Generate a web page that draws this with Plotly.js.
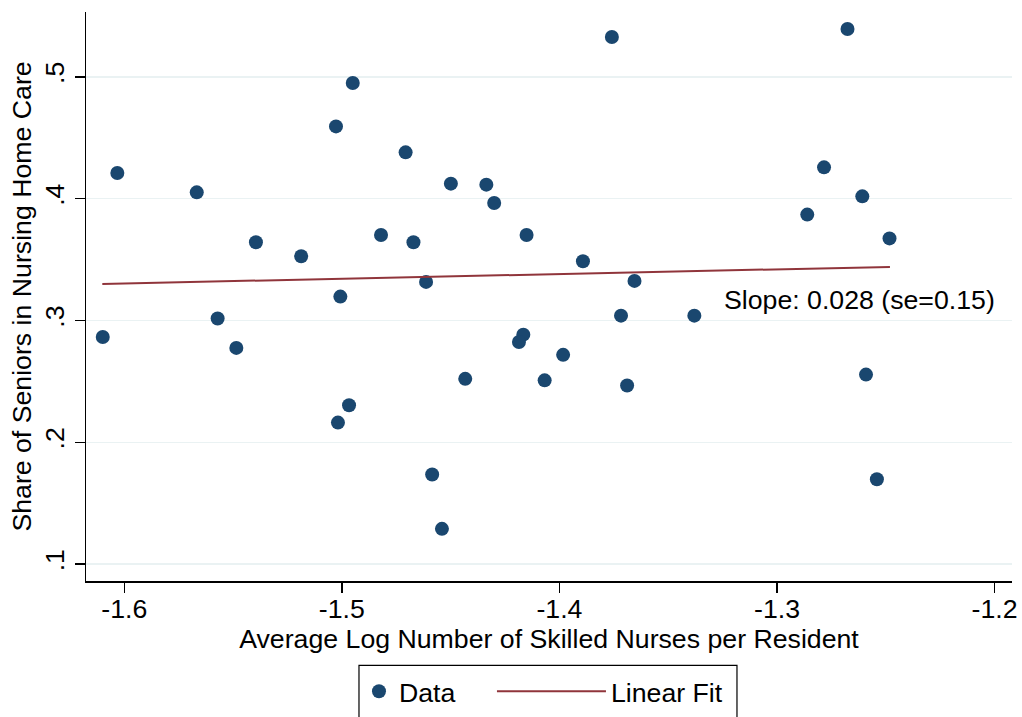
<!DOCTYPE html>
<html>
<head>
<meta charset="utf-8">
<script src="https://cdn.plot.ly/plotly-3.0.1.min.js"></script>
<style>
  html, body { margin: 0; padding: 0; background: #ffffff; }
  #chart { width: 1022px; height: 717px; }
</style>
</head>
<body>
<div id="chart"></div>
<script>
// Average log skilled nurses per resident (x) vs. share of seniors in nursing home care (y)
const nursesLog = [
  -1.6099, -1.6032, -1.5667, -1.5571, -1.5485, -1.5395, -1.5187, -1.5027,
  -1.5007, -1.5018, -1.4967, -1.4950, -1.4820, -1.4707, -1.4671, -1.4613,
  -1.4585, -1.4540, -1.4499, -1.4433, -1.4336, -1.4300, -1.4166, -1.4186,
  -1.4151, -1.4068, -1.3983, -1.3892, -1.3759, -1.3717, -1.3689, -1.3655,
  -1.3380, -1.2861, -1.2784, -1.2676, -1.2608, -1.2591, -1.2541, -1.2483
];
const seniorShare = [
  0.2865, 0.4211, 0.4052, 0.3016, 0.2775, 0.3642, 0.3527, 0.4593,
  0.3196, 0.2162, 0.2304, 0.4949, 0.3702, 0.4380, 0.3642, 0.3317,
  0.1736, 0.1290, 0.4123, 0.2521, 0.4115, 0.3965, 0.2884, 0.2824,
  0.3702, 0.2509, 0.2718, 0.3486, 0.5327, 0.3040, 0.2466, 0.3325,
  0.3040, 0.3869, 0.4257, 0.5392, 0.4019, 0.2556, 0.1697, 0.3674
];

// Fitted regression line end points
const fitX = [-1.6101, -1.2481];
const fitY = [0.3300, 0.3440];

const slopeLabel = 'Slope: 0.028 (se=0.15)';

// Axis ticks
const xTickVals = [-1.6, -1.5, -1.4, -1.3, -1.2];
const xTickText = ['-1.6', '-1.5', '-1.4', '-1.3', '-1.2'];
const yTickVals = [0.1, 0.2, 0.3, 0.4, 0.5];
const yTickText = ['.1', '.2', '.3', '.4', '.5'];

const FONT = 'Arial, "Liberation Sans", Helvetica, sans-serif';
const FS = 26.7;
const NAVY = '#1a476f';
const MAROON = '#90353b';

const traces = [
  {
    type: 'scatter',
    mode: 'markers',
    name: 'Data',
    x: nursesLog,
    y: seniorShare,
    marker: { color: NAVY, size: 14, line: { width: 0 } },
    legend: 'legend',
    hoverinfo: 'x+y'
  },
  {
    type: 'scatter',
    mode: 'lines',
    name: 'Linear Fit',
    x: fitX,
    y: fitY,
    line: { color: MAROON, width: 2 },
    legend: 'legend2',
    hoverinfo: 'x+y'
  }
];

const legendCommon = {
  orientation: 'h',
  xanchor: 'left',
  yanchor: 'middle',
  y: -0.194,
  borderwidth: 0,
  bgcolor: 'rgba(0,0,0,0)',
  font: { family: FONT, size: FS, color: '#000000' }
};

const layout = {
  width: 1022,
  height: 717,
  paper_bgcolor: '#ffffff',
  plot_bgcolor: '#ffffff',
  font: { family: FONT, size: FS, color: '#000000' },
  margin: { l: 86, r: 10, t: 12, b: 135.5, pad: 0, autoexpand: false },
  showlegend: true,
  legend: Object.assign({}, legendCommon, { x: 0.2948, itemwidth: 30 }),
  legend2: Object.assign({}, legendCommon, { x: 0.4384, itemwidth: 109 }),
  shapes: [
    // frame around the legend entries
    {
      type: 'rect',
      xref: 'paper',
      yref: 'paper',
      x0: 0.2948,
      x1: 0.7030,
      y0: -0.1484,
      y1: -0.2450,
      line: { color: '#000000', width: 1.2 },
      fillcolor: 'rgba(0,0,0,0)',
      layer: 'below'
    }
  ],
  xaxis: {
    range: [-1.6176, -1.192],
    tickmode: 'array',
    tickvals: xTickVals,
    ticktext: xTickText,
    ticks: 'outside',
    ticklen: 10,
    tickwidth: 1.5,
    tickcolor: '#000000',
    ticklabelstandoff: -7,
    showline: true,
    linecolor: '#000000',
    linewidth: 1.5,
    showgrid: false,
    zeroline: false,
    tickfont: { family: FONT, size: FS, color: '#000000' },
    title: {
      text: 'Average Log Number of Skilled Nurses per Resident',
      font: { family: FONT, size: FS, color: '#000000' },
      standoff: 0
    },
    automargin: false
  },
  yaxis: {
    range: [0.0862, 0.5532],
    tickmode: 'array',
    tickvals: yTickVals,
    ticktext: yTickText,
    tickangle: -90,
    ticks: 'outside',
    ticklen: 10,
    tickwidth: 1.5,
    tickcolor: '#000000',
    showline: true,
    linecolor: '#000000',
    linewidth: 1.5,
    showgrid: true,
    gridcolor: '#eaf2f3',
    gridwidth: 1.5,
    zeroline: false,
    tickfont: { family: FONT, size: FS, color: '#000000' },
    title: {
      text: 'Share of Seniors in Nursing Home Care',
      font: { family: FONT, size: FS, color: '#000000' },
      standoff: 0
    },
    automargin: false
  },
  annotations: [
    {
      x: -1.3253,
      y: 0.3171,
      xref: 'x',
      yref: 'y',
      text: slopeLabel,
      showarrow: false,
      xanchor: 'left',
      yanchor: 'middle',
      font: { family: FONT, size: FS, color: '#000000' }
    }
  ]
};

Plotly.newPlot('chart', traces, layout, { displayModeBar: false, staticPlot: true });
</script>
</body>
</html>
